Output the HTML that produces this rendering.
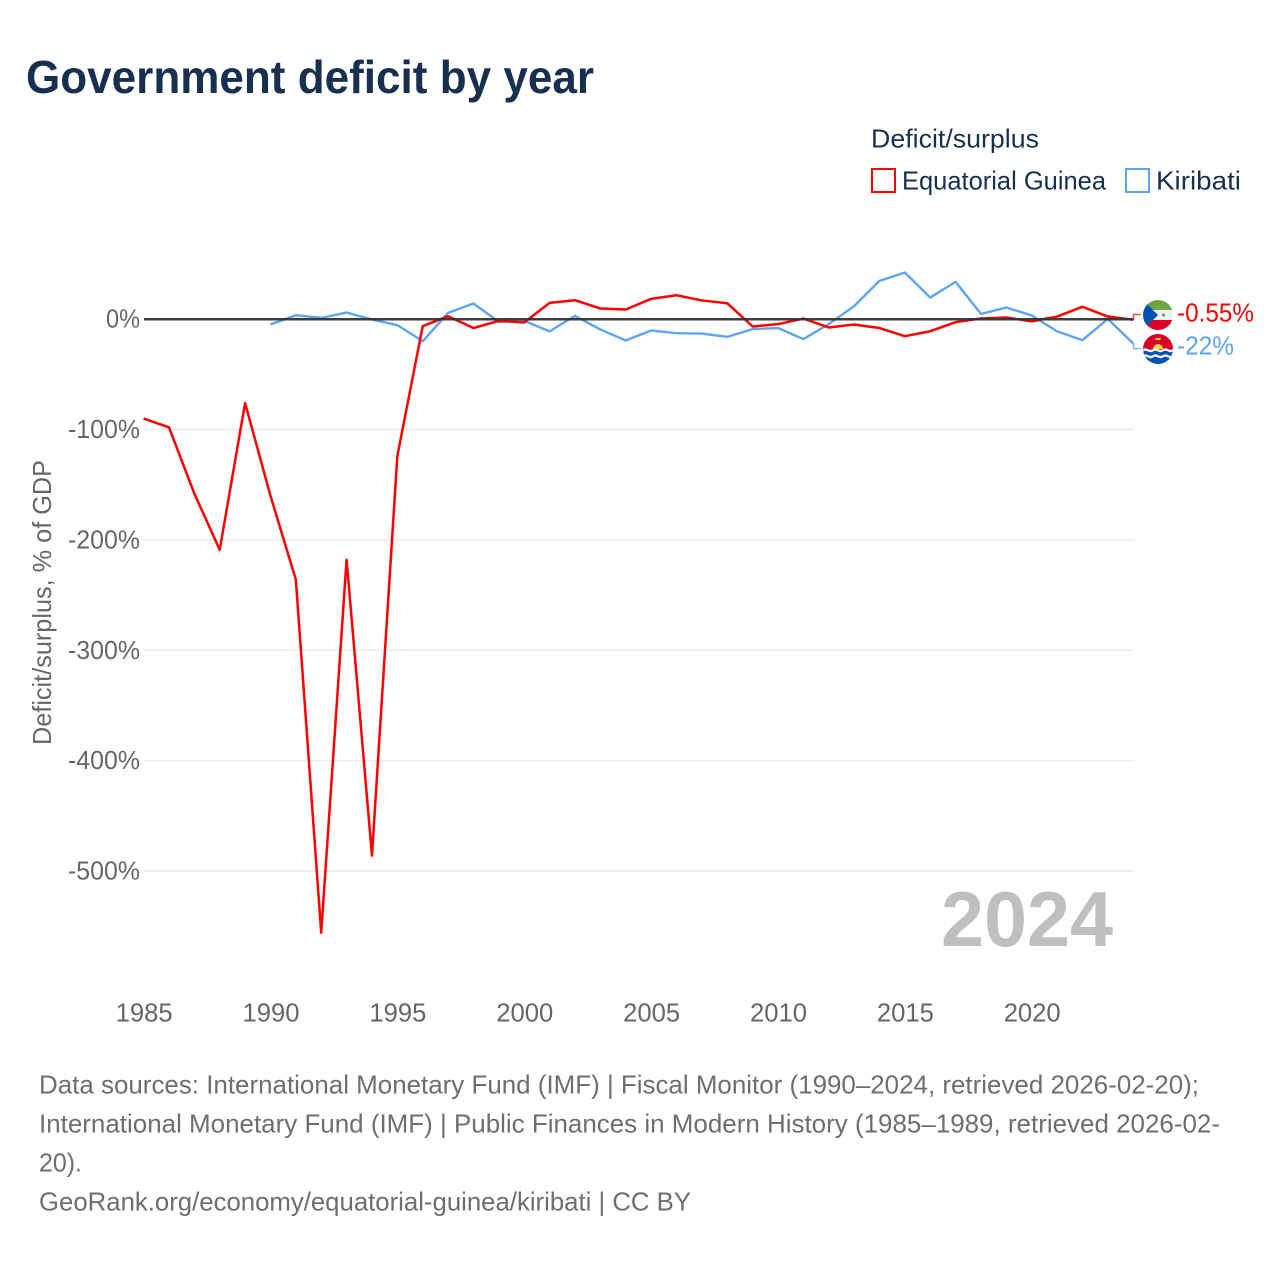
<!DOCTYPE html>
<html lang="en">
<head>
<meta charset="utf-8">
<title>Government deficit by year</title>
<style>
html,body{margin:0;padding:0;background:#fff;width:1280px;height:1280px;overflow:hidden}
svg{display:block;font-family:"Liberation Sans",sans-serif}
</style>
</head>
<body>
<svg id="chart" xmlns="http://www.w3.org/2000/svg" width="1280" height="1280" viewBox="0 0 1280 1280">
  <text x="26" y="93" font-size="46" font-weight="700" fill="#18304f" textLength="568" lengthAdjust="spacingAndGlyphs">Government deficit by year</text>

  <g>
    <text x="871" y="147.500" font-size="26" fill="#18304f" textLength="168" lengthAdjust="spacingAndGlyphs">Deficit/surplus</text>
    <g>
      <rect x="872" y="169" width="23" height="23" fill="#fff" stroke="#ff0000" stroke-width="2"/>
      <text x="902" y="189.500" font-size="26" fill="#18304f" textLength="204" lengthAdjust="spacingAndGlyphs">Equatorial Guinea</text>
    </g>
    <g>
      <rect x="1126" y="169" width="23" height="23" fill="#fff" stroke="#5da5ee" stroke-width="2"/>
      <text x="1156" y="189.500" font-size="26" fill="#18304f" textLength="85" lengthAdjust="spacingAndGlyphs">Kiribati</text>
    </g>
  </g>

  <g id="grid"></g>
  <g id="yticks"></g>
  <g id="xticks"></g>
  <text transform="translate(51,745) rotate(-90)" font-size="26" fill="#666666" textLength="285" lengthAdjust="spacingAndGlyphs">Deficit/surplus, % of GDP</text>

  <text x="941" y="946" font-size="78" font-weight="700" fill="#bfbfbf" textLength="172" lengthAdjust="spacingAndGlyphs">2024</text>

  <g id="series"></g>
  <g id="zero"></g>
  <g id="ends"></g>

  <defs>
    <clipPath id="clip-gq"><circle cx="1158" cy="315" r="15"/></clipPath>
    <clipPath id="clip-ki"><circle cx="1158" cy="349" r="15"/></clipPath>
  </defs>
  <g clip-path="url(#clip-gq)">
    <rect x="1143" y="300" width="30" height="10" fill="#6da544"/>
    <rect x="1143" y="310" width="30" height="10" fill="#f0f0f0"/>
    <rect x="1143" y="320" width="30" height="10" fill="#d80027"/>
    <polygon points="1143,300 1158,315 1143,330" fill="#0052b4"/>
    <circle cx="1163.500" cy="315" r="1.600" fill="#6da544"/>
  </g>
  <g clip-path="url(#clip-ki)">
    <rect x="1143" y="334" width="30" height="16" fill="#d80027"/>
    <rect x="1143" y="350" width="30" height="14" fill="#0052b4"/>
    <path d="M1153 349a5 5 0 0 1 10 0z" fill="#ffda44"/>
    <path d="M1155 338h6l-1 2h-4z" fill="#ffda44"/>
    <path d="M1143 349q2.500-1.500 5 0t5 0 5 0 5 0 5 0 5 0v2.500q-2.500 1.500-5 0t-5 0-5 0-5 0-5 0-5 0z" fill="#f0f0f0"/>
    <path d="M1143 355q2.500-1.500 5 0t5 0 5 0 5 0 5 0 5 0v2.500q-2.500 1.500-5 0t-5 0-5 0-5 0-5 0-5 0z" fill="#f0f0f0"/>
  </g>

  <g font-size="26" fill="#6e6e6e">
    <text x="39" y="1093.500" textLength="1160" lengthAdjust="spacingAndGlyphs">Data sources: International Monetary Fund (IMF) | Fiscal Monitor (1990–2024, retrieved 2026-02-20);</text>
    <text x="39" y="1132.500" textLength="1181" lengthAdjust="spacingAndGlyphs">International Monetary Fund (IMF) | Public Finances in Modern History (1985–1989, retrieved 2026-02-</text>
    <text x="39" y="1171.500" textLength="43" lengthAdjust="spacingAndGlyphs">20).</text>
    <text x="39" y="1210.500" textLength="652" lengthAdjust="spacingAndGlyphs">GeoRank.org/economy/equatorial-guinea/kiribati | CC BY</text>
  </g>
</svg>

<script>
const years = [1985,1986,1987,1988,1989,1990,1991,1992,1993,1994,1995,1996,1997,1998,1999,2000,2001,2002,2003,2004,2005,2006,2007,2008,2009,2010,2011,2012,2013,2014,2015,2016,2017,2018,2019,2020,2021,2022,2023,2024];
const equatorialGuinea = [-90,-98,-158,-209,-76,-160,-236,-556,-218,-486,-124,-6.3,2.7,-8,-1.5,-3,14.8,17.2,9.7,8.8,18.4,21.7,17,14.5,-6.6,-4.5,0.6,-7.5,-4.8,-8,-15.4,-10.9,-2.7,0.6,1.5,-2,2.4,11.2,2.4,-0.55];
const kiribati = [null,null,null,null,null,-4.8,3.6,1.2,6,-0.3,-5.4,-20,5.7,14.2,-2.4,-1.5,-11,3,-9.3,-19.3,-10.2,-12.7,-13,-16,-9,-8,-18,-4.5,11.8,34.7,42.3,19.6,33.8,4.8,10.6,3.4,-11,-19,0.3,-22];
const yTickValues = [0,-100,-200,-300,-400,-500];
const xTickValues = [1985,1990,1995,2000,2005,2010,2015,2020];
const endLabels = ["-0.55%","-22%"];

const NS = "http://www.w3.org/2000/svg";
function xScale(year){ return 143.6 + (year - 1985) * (1133.2 - 143.6) / 39; }
function yScale(value){ return 319.2 - value * 1.1035; }
function make(tag, attrs, parent){
  const el = document.createElementNS(NS, tag);
  for (const k in attrs) el.setAttribute(k, attrs[k]);
  parent.appendChild(el);
  return el;
}
function linePath(values){
  let d = "", pen = false;
  values.forEach(function(v, i){
    if (v === null) { pen = false; return; }
    d += (pen ? "L" : "M") + xScale(years[i]).toFixed(2) + " " + yScale(v).toFixed(2);
    pen = true;
  });
  return d;
}

const gridG = document.getElementById("grid");
const yG = document.getElementById("yticks");
yTickValues.forEach(function(v){
  if (v !== 0) {
    const g = make("line", {x1:144, x2:1133.5, y1:yScale(v), y2:yScale(v), stroke:"#ebebeb", "stroke-width":1.500}, gridG);
    
    
  }
  const t = make("text", {x:140, y:yScale(v)+8.5, "text-anchor":"end", "font-size":26, fill:"#666666", textLength: v === 0 ? 34 : 72, lengthAdjust:"spacingAndGlyphs"}, yG);
  
  
  t.textContent = v + "%";
});

const xG = document.getElementById("xticks");
xTickValues.forEach(function(y){
  const t = make("text", {x:xScale(y)-28, y:1021.5, "font-size":26, fill:"#666666", textLength:57, lengthAdjust:"spacingAndGlyphs"}, xG);
  
  
  t.textContent = y;
});

const seriesG = document.getElementById("series");
const blue = make("path", {d:linePath(kiribati), fill:"none", stroke:"#5da5ee", "stroke-width":2.400, "stroke-linejoin":"round"}, seriesG);


const red = make("path", {d:linePath(equatorialGuinea), fill:"none", stroke:"#ff0000", "stroke-width":2.500, "stroke-linejoin":"round"}, seriesG);



const zeroLine = make("line", {x1:144, x2:1133.5, y1:yScale(0), y2:yScale(0), stroke:"#333333", "stroke-width":2.500, "stroke-opacity":0.95}, document.getElementById("zero"));



const endsG = document.getElementById("ends");
const lastRed = yScale(equatorialGuinea[equatorialGuinea.length-1]);
const lastBlue = yScale(kiribati[kiribati.length-1]);
const c1 = make("path", {d:"M1133.5 "+lastRed+"V314.500H1141", fill:"none", stroke:"#ff0000", "stroke-width":1.500, "stroke-opacity":0.7}, endsG);


const c2 = make("path", {d:"M1133.5 "+lastBlue+"V348.500H1141", fill:"none", stroke:"#5da5ee", "stroke-width":1.500, "stroke-opacity":0.8}, endsG);


const l1 = make("text", {x:1177, y:321.5, "font-size":26, fill:"#ff0000", textLength:77, lengthAdjust:"spacingAndGlyphs"}, endsG);


l1.textContent = endLabels[0];
const l2 = make("text", {x:1177, y:354.5, "font-size":26, fill:"#5da5ee", textLength:57, lengthAdjust:"spacingAndGlyphs"}, endsG);


l2.textContent = endLabels[1];
</script>
</body>
</html>
